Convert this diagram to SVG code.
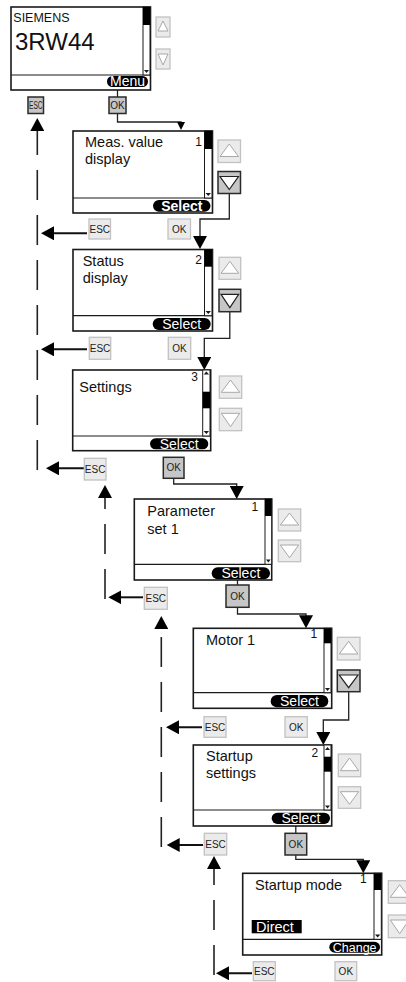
<svg xmlns="http://www.w3.org/2000/svg" width="406" height="982" viewBox="0 0 406 982">
<style>
text{font-family:"Liberation Sans",Arial,sans-serif}
.bg{fill:#fff}
.frame{fill:#fff;stroke:#1a1a1a;stroke-width:1.6}
.div{stroke:#1a1a1a;stroke-width:1.2;fill:none}
.sb{fill:#fff;stroke:#1a1a1a;stroke-width:1}
.thumb{fill:#000}
.tiny{fill:#1a1a1a}
.pill{fill:#000}
.pt{font-size:14px;fill:#fff;text-anchor:middle}
.t{font-size:14.5px;fill:#111}
.num{font-size:12px;fill:#111;text-anchor:end}
.bl{fill:#ebebeb;stroke:#c2c2c2;stroke-width:1.3}
.bh{fill:#c6c6c6;stroke:#2a2a2a;stroke-width:1.5}
.tl{fill:#fff;stroke:#a8a8a8;stroke-width:1}
.th{fill:#fff;stroke:#222;stroke-width:1.2}
.bt{font-size:10px;fill:#222;text-anchor:middle}
.con{fill:none;stroke:#222;stroke-width:1.3}
.back{fill:none;stroke:#111;stroke-width:2}
.dash{fill:none;stroke:#222;stroke-width:1.6;stroke-dasharray:30 15}
</style>
<defs>
<marker id="ah" markerUnits="userSpaceOnUse" markerWidth="14" markerHeight="14" viewBox="0 0 14 14" refX="10" refY="7" orient="auto">
<path d="M0,0 L13,7 L0,14 Z" fill="#000"/>
</marker>
<marker id="ahs" markerUnits="userSpaceOnUse" markerWidth="8" markerHeight="8" viewBox="0 0 8 8" refX="6" refY="4" orient="auto">
<path d="M0,0 L8,4 L0,8 Z" fill="#000"/>
</marker>
</defs>
<rect class="bg" x="0" y="0" width="406" height="982"/>

<g id="connectors">
<path class="con" d="M117.5,90 V97"/>
<path class="con" d="M117.5,113.5 V122 H181 V128" marker-end="url(#ahs)"/>
<path class="dash" d="M37.3,470 V121" marker-end="url(#ah)"/>
<path class="con" d="M229.3,193.5 V219 H200 V246" marker-end="url(#ah)"/>
<path class="back" d="M87,233.3 H44" marker-end="url(#ah)"/>
<path class="con" d="M229.8,311.7 V338.3 H204.3 V367" marker-end="url(#ah)"/>
<path class="back" d="M87,349.3 H44" marker-end="url(#ah)"/>
<path class="con" d="M173.7,478.3 V484 H236.7 V496" marker-end="url(#ah)"/>
<path class="back" d="M84,468.3 H49" marker-end="url(#ah)"/>
<path class="dash" d="M105,599 V488" marker-end="url(#ah)"/>
<path class="con" d="M237.5,580 V585"/>
<path class="con" d="M237.5,607.3 V614 H306 V625.3" marker-end="url(#ah)"/>
<path class="back" d="M143,597.3 H111.3" marker-end="url(#ah)"/>
<path class="dash" d="M161.3,847 V619" marker-end="url(#ah)"/>
<path class="con" d="M348.7,691.7 V720 H323.3 V742" marker-end="url(#ah)"/>
<path class="back" d="M202,727.3 H169" marker-end="url(#ah)"/>
<path class="con" d="M295.8,826 V833.3"/>
<path class="con" d="M295.8,855 V859.3 H363.3 V870.3" marker-end="url(#ah)"/>
<path class="back" d="M203,845 H169.7" marker-end="url(#ah)"/>
<path class="dash" d="M214,975 V859" marker-end="url(#ah)"/>
<path class="back" d="M252,973.3 H219" marker-end="url(#ah)"/>
</g>

<g id="screen-main">
<rect class="frame" x="11" y="7" width="139.5" height="83"/>
<line class="div" x1="11" y1="75" x2="150.5" y2="75"/>
<rect class="sb" x="143" y="7" width="7" height="68"/>
<rect class="thumb" x="143" y="7" width="7" height="18"/>
<polygon class="tiny" points="144,70 149,70 146.5,73"/>
<text x="13.3" y="21.5" style="font-size:12.5px;fill:#111">SIEMENS</text>
<text x="15" y="50" style="font-size:24px;fill:#111">3RW44</text>
<rect class="pill" x="107" y="76" width="41" height="11" rx="5.5"/>
<text class="pt" x="127.5" y="86">Menu</text>
<rect class="bl" x="156" y="17" width="14" height="20"/>
<polygon class="tl" points="158,31 168,31 163,21"/>
<rect class="bl" x="156" y="49" width="14" height="20"/>
<polygon class="tl" points="158,54 168,54 163,65"/>
<rect class="bh" x="28" y="97" width="15.5" height="16.5"/>
<text class="bt" x="35.75" y="108.8" textLength="13.5" lengthAdjust="spacingAndGlyphs">ESC</text>
<rect class="bh" x="109" y="97" width="17" height="16.5"/>
<text class="bt" x="117.5" y="108.8">OK</text>
</g>

<g id="screen-meas">
<rect class="frame" x="73" y="131" width="139.5" height="82"/>
<line class="div" x1="73" y1="198" x2="212.5" y2="198"/>
<rect class="sb" x="204.5" y="131" width="7.5" height="67"/>
<rect class="thumb" x="204.5" y="131" width="7.5" height="18"/>
<polygon class="tiny" points="205.5,193 211,193 208.25,196"/>
<text class="t" x="85" y="147">Meas. value</text>
<text class="t" x="85" y="164">display</text>
<text class="num" x="202" y="145.5">1</text>
<rect class="pill" x="153" y="200" width="57.5" height="11.7" rx="5.85"/>
<text class="pt" x="181.75" y="210.5" font-weight="bold">Select</text>
<rect class="bl" x="218" y="140" width="22.5" height="22.5"/>
<polygon class="tl" points="220,156.5 238.5,156.5 229.25,144"/>
<rect class="bh" x="218" y="171.5" width="22.5" height="22"/>
<polygon class="th" points="220,176.5 238.5,176.5 229.25,189.5"/>
<rect class="bl" x="89" y="219" width="21.5" height="20"/>
<text class="bt" x="99.75" y="232.6">ESC</text>
<rect class="bl" x="168" y="219" width="22.5" height="20"/>
<text class="bt" x="179.25" y="232.6">OK</text>
</g>

<g id="screen-status">
<rect class="frame" x="73" y="249.5" width="139.5" height="81.5"/>
<line class="div" x1="73" y1="315.7" x2="212.5" y2="315.7"/>
<rect class="sb" x="204.5" y="249.5" width="7.5" height="66.2"/>
<rect class="thumb" x="204.5" y="249.5" width="7.5" height="17.2"/>
<polygon class="tiny" points="205.5,311 211,311 208.25,314"/>
<text class="t" x="82.7" y="266">Status</text>
<text class="t" x="82.7" y="283.3">display</text>
<text class="num" x="202" y="263.5">2</text>
<rect class="pill" x="152.7" y="318" width="58" height="12" rx="6"/>
<text class="pt" x="181.7" y="328.8">Select</text>
<rect class="bl" x="219" y="257.3" width="21.7" height="22"/>
<polygon class="tl" points="221,273.3 238.7,273.3 229.85,261.3"/>
<rect class="bh" x="219" y="289.3" width="21.7" height="22.4"/>
<polygon class="th" points="221,294.3 238.7,294.3 229.85,307.7"/>
<rect class="bl" x="89.3" y="337.3" width="21.4" height="22"/>
<text class="bt" x="100" y="351.9">ESC</text>
<rect class="bl" x="168.3" y="337.3" width="22.4" height="22"/>
<text class="bt" x="179.5" y="351.9">OK</text>
</g>

<g id="screen-settings">
<rect class="frame" x="72.7" y="370" width="138" height="80.7"/>
<line class="div" x1="72.7" y1="436" x2="210.7" y2="436"/>
<rect class="sb" x="202.7" y="370" width="7.3" height="66"/>
<rect class="thumb" x="202.7" y="391.7" width="7.3" height="16.6"/>
<polygon class="tiny" points="203.7,374.5 209,374.5 206.35,371.5"/>
<polygon class="tiny" points="203.7,431 209,431 206.35,434"/>
<text class="t" x="79.3" y="391.7">Settings</text>
<text class="num" x="198" y="380.7">3</text>
<rect class="pill" x="150" y="438.3" width="58.3" height="11" rx="5.5"/>
<text class="pt" x="179.15" y="448.5">Select</text>
<rect class="bl" x="219.3" y="376" width="22.4" height="22.3"/>
<polygon class="tl" points="221.3,392.3 239.7,392.3 230.5,380"/>
<rect class="bl" x="219.3" y="408.3" width="22.4" height="22.4"/>
<polygon class="tl" points="221.3,413.3 239.7,413.3 230.5,426.7"/>
<rect class="bl" x="84.3" y="458.3" width="21.7" height="21.7"/>
<text class="bt" x="95.15" y="472.8">ESC</text>
<rect class="bh" x="163.3" y="457.3" width="20.7" height="21"/>
<text class="bt" x="173.65" y="471.4">OK</text>
</g>

<g id="screen-paramset">
<rect class="frame" x="134.3" y="499" width="137.4" height="81"/>
<line class="div" x1="134.3" y1="564.3" x2="271.7" y2="564.3"/>
<rect class="sb" x="265" y="499" width="6.7" height="65.3"/>
<rect class="thumb" x="265" y="499" width="6.7" height="17"/>
<polygon class="tiny" points="266,559.5 270.7,559.5 268.35,562.5"/>
<text class="t" x="147.3" y="516">Parameter</text>
<text class="t" x="147.3" y="534">set 1</text>
<text class="num" x="258.3" y="511">1</text>
<rect class="pill" x="211.7" y="567.3" width="58.3" height="12" rx="6"/>
<text class="pt" x="240.85" y="578">Select</text>
<rect class="bl" x="278.3" y="509" width="22.4" height="22"/>
<polygon class="tl" points="280.3,525 298.7,525 289.5,513"/>
<rect class="bl" x="278.3" y="540" width="22.4" height="21.7"/>
<polygon class="tl" points="280.3,545 298.7,545 289.5,557.7"/>
<rect class="bl" x="144.3" y="587.3" width="23" height="22"/>
<text class="bt" x="155.8" y="601.9">ESC</text>
<rect class="bh" x="226" y="585" width="23" height="22.3"/>
<text class="bt" x="237.5" y="599.8">OK</text>
</g>

<g id="screen-motor">
<rect class="frame" x="193.3" y="628.3" width="138.4" height="80"/>
<line class="div" x1="193.3" y1="692.7" x2="331.7" y2="692.7"/>
<rect class="sb" x="324" y="628.3" width="7" height="64.4"/>
<rect class="thumb" x="324" y="628.3" width="7" height="15"/>
<polygon class="tiny" points="325,688 330,688 327.5,691"/>
<text class="t" x="206" y="645">Motor 1</text>
<text class="num" x="317.3" y="638.3">1</text>
<rect class="pill" x="270.7" y="695" width="57.6" height="12.3" rx="6.15"/>
<text class="pt" x="299.5" y="705.8">Select</text>
<rect class="bl" x="337.3" y="637.3" width="22.7" height="22.7"/>
<polygon class="tl" points="339.3,654 358,654 348.65,641.3"/>
<rect class="bh" x="337.3" y="670" width="22.7" height="21.7"/>
<polygon class="th" points="339.3,675 358,675 348.65,687.7"/>
<rect class="bl" x="204" y="716.7" width="22" height="20.6"/>
<text class="bt" x="215" y="730.6">ESC</text>
<rect class="bl" x="285" y="716.7" width="22.3" height="20.6"/>
<text class="bt" x="296.15" y="730.6">OK</text>
</g>

<g id="screen-startup-settings">
<rect class="frame" x="193.3" y="745" width="138.4" height="81"/>
<line class="div" x1="193.3" y1="810" x2="331.7" y2="810"/>
<rect class="sb" x="324" y="745" width="7" height="65"/>
<rect class="thumb" x="324" y="756.7" width="7" height="15"/>
<polygon class="tiny" points="325,750 330,750 327.5,747"/>
<polygon class="tiny" points="325,805.5 330,805.5 327.5,808.5"/>
<text class="t" x="206" y="760.7">Startup</text>
<text class="t" x="206" y="778.3">settings</text>
<text class="num" x="318.3" y="757.3">2</text>
<rect class="pill" x="271.7" y="812.7" width="58.3" height="11.3" rx="5.65"/>
<text class="pt" x="300.85" y="823">Select</text>
<rect class="bl" x="338.3" y="754" width="22.4" height="22.7"/>
<polygon class="tl" points="340.3,770.7 358.7,770.7 349.5,758"/>
<rect class="bl" x="338.3" y="786.7" width="22.4" height="21.6"/>
<polygon class="tl" points="340.3,791.7 358.7,791.7 349.5,804.3"/>
<rect class="bl" x="204.3" y="833.3" width="22.4" height="21.7"/>
<text class="bt" x="215.5" y="847.8">ESC</text>
<rect class="bh" x="285" y="833.3" width="21.7" height="21.7"/>
<text class="bt" x="295.85" y="847.8">OK</text>
</g>

<g id="screen-startup-mode">
<rect class="frame" x="242.7" y="873.3" width="139" height="81.7"/>
<line class="div" x1="242.7" y1="939.3" x2="381.7" y2="939.3"/>
<rect class="sb" x="374" y="873.3" width="7.3" height="66"/>
<rect class="thumb" x="374" y="873.3" width="7.3" height="16.7"/>
<polygon class="tiny" points="375,934.5 380.3,934.5 377.65,937.5"/>
<text class="t" x="255" y="890">Startup mode</text>
<text class="num" x="366.7" y="883.3">1</text>
<rect x="251.7" y="920" width="50" height="13.3" fill="#000"/>
<text class="t" x="256" y="931.5" style="fill:#fff">Direct</text>
<rect class="pill" x="329.3" y="941.7" width="50.7" height="11" rx="5.5"/>
<text class="pt" x="354.65" y="951.8" style="font-size:12.5px">Change</text>
<rect class="bl" x="388.3" y="880.7" width="22.7" height="22.6"/>
<polygon class="tl" points="390.3,897.3 409,897.3 399.65,884.7"/>
<rect class="bl" x="388.3" y="915" width="22.7" height="22.7"/>
<polygon class="tl" points="390.3,920 409,920 399.65,933.7"/>
<rect class="bl" x="253.3" y="961.7" width="22" height="19"/>
<text class="bt" x="264.3" y="974.8">ESC</text>
<rect class="bl" x="335" y="961.7" width="21.7" height="19"/>
<text class="bt" x="345.85" y="974.8">OK</text>
</g>
</svg>
